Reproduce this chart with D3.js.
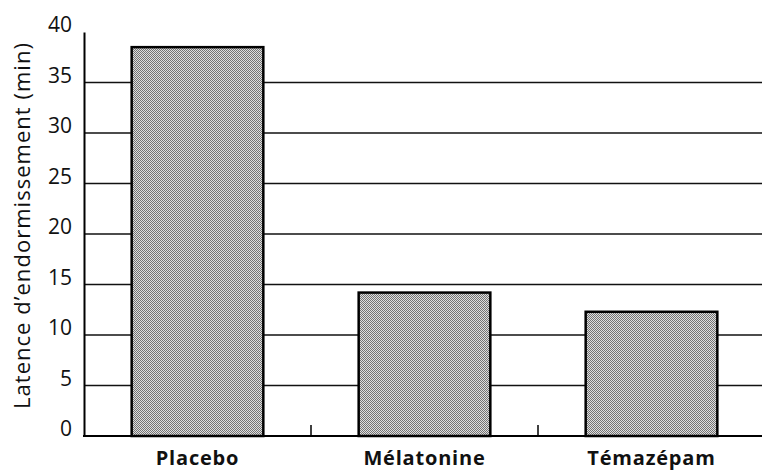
<!DOCTYPE html>
<html>
<head>
<meta charset="utf-8">
<script src="https://cdn.jsdelivr.net/npm/d3@7"></script>
<style>
  html, body { margin: 0; padding: 0; background: #fff; }
  svg { display: block; }
</style>
</head>
<body>
<svg id="chart" width="762" height="470"></svg>
<script>
// Sleep onset latency per treatment group
const categories = ["Placebo", "Mélatonine", "Témazépam"];
const latency = [38.5, 14.2, 12.3];
const yTicks = [0, 5, 10, 15, 20, 25, 30, 35, 40];
const yTitle = "Latence d\u2019endormissement (min)";

const svg = d3.select("#chart");
const W = 762, H = 470;
const m = { left: 84, right: 0, top: 32, bottom: 34 };
const font = "'Open Sans', 'Noto Sans', sans-serif";

const x = d3.scaleBand()
  .domain(categories)
  .range([m.left, 765])
  .paddingInner(0.42)
  .paddingOuter(0.21);

const y = d3.scaleLinear()
  .domain([0, 40])
  .range([H - m.bottom, m.top]);

// halftone-style grey fill
const defs = svg.append("defs");
const pat = defs.append("pattern")
  .attr("id", "dots")
  .attr("patternUnits", "userSpaceOnUse")
  .attr("width", 2).attr("height", 2);
pat.append("rect").attr("width", 2).attr("height", 2).attr("fill", "#dedede");
pat.append("rect").attr("x", 0).attr("y", 0).attr("width", 1).attr("height", 1).attr("fill", "#737373");
pat.append("rect").attr("x", 1).attr("y", 1).attr("width", 1).attr("height", 1).attr("fill", "#737373");

// horizontal gridlines
svg.append("g")
  .selectAll("line")
  .data(yTicks.filter(d => d > 0 && d < 40))
  .join("line")
  .attr("x1", m.left).attr("x2", W)
  .attr("y1", d => y(d)).attr("y2", d => y(d))
  .attr("stroke", "#111").attr("stroke-width", 1.3);

// y axis
const yAxis = d3.axisLeft(y).tickValues(yTicks).tickSize(0).tickPadding(12);
const gy = svg.append("g").attr("transform", `translate(${m.left},0)`).call(yAxis);
gy.select(".domain").attr("stroke", "#000").attr("stroke-width", 2);
gy.selectAll("text")
  .attr("font-family", font)
  .attr("font-size", 21)
  .attr("fill", "#111")
  .attr("dy", "0.32em")
  .attr("transform", "translate(0,-7)");

// bars
svg.append("g")
  .selectAll("rect")
  .data(categories.map((c, i) => ({ c, v: latency[i] })))
  .join("rect")
  .attr("x", d => x(d.c))
  .attr("y", d => y(d.v))
  .attr("width", x.bandwidth())
  .attr("height", d => y(0) - y(d.v))
  .attr("fill", "url(#dots)")
  .attr("stroke", "#000")
  .attr("stroke-width", 2.5);

// x axis baseline with ticks between categories
const xAxisG = svg.append("g");
xAxisG.append("line")
  .attr("x1", m.left - 1).attr("x2", W)
  .attr("y1", y(0)).attr("y2", y(0))
  .attr("stroke", "#000").attr("stroke-width", 2.2);
const step = x.step();
xAxisG.selectAll("line.sep")
  .data(categories.slice(1))
  .join("line")
  .attr("class", "sep")
  .attr("x1", d => x(d) - x.paddingInner() * step / 2)
  .attr("x2", d => x(d) - x.paddingInner() * step / 2)
  .attr("y1", y(0)).attr("y2", y(0) - 11)
  .attr("stroke", "#000").attr("stroke-width", 1.5);

// category labels
svg.append("g")
  .selectAll("text")
  .data(categories)
  .join("text")
  .attr("x", d => x(d) + x.bandwidth() / 2)
  .attr("y", 465)
  .attr("text-anchor", "middle")
  .attr("font-family", font)
  .attr("font-weight", "bold")
  .attr("font-size", 20)
  .attr("letter-spacing", 0.8)
  .attr("fill", "#111")
  .text(d => d);

// y axis title
svg.append("text")
  .attr("transform", `translate(30,226) rotate(-90)`)
  .attr("text-anchor", "middle")
  .attr("font-family", font)
  .attr("font-weight", 500)
  .attr("font-size", 22)
  .attr("textLength", 366)
  .attr("lengthAdjust", "spacing")
  .attr("fill", "#111")
  .text(yTitle);
</script>
</body>
</html>
